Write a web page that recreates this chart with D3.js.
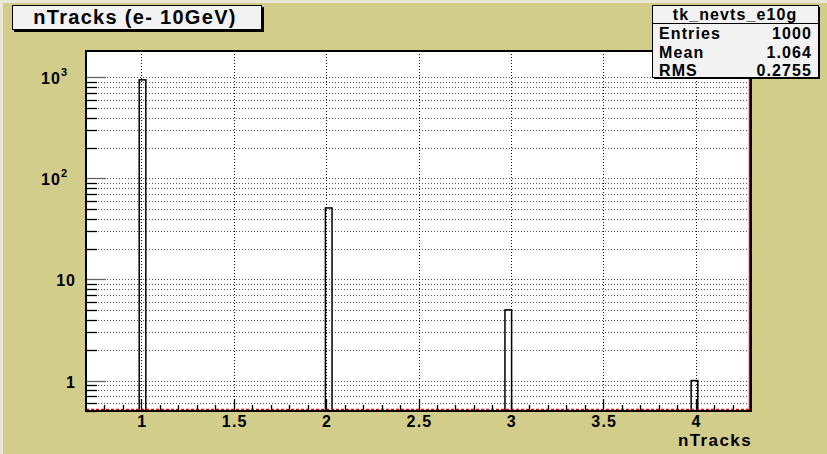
<!DOCTYPE html>
<html>
<head>
<meta charset="utf-8">
<script src="https://cdn.jsdelivr.net/npm/d3@7"></script>
<style>
  body { margin: 0; background: #fff; }
  svg { display: block; font-family: "Liberation Sans", Arial, sans-serif; font-weight: bold; }
</style>
</head>
<body>
<svg id="chart" width="827" height="454"></svg>
<script>
// histogram contents (bin edges)
var binLow = [0.988, 1.996, 2.968, 3.976];
var binWidth = 0.036;
var counts = [943, 51, 5, 1];
var xTicks = [1, 1.5, 2, 2.5, 3, 3.5, 4];
var xTickLabels = ['1', '1.5', '2', '2.5', '3', '3.5', '4'];
var yMajor = [1, 10, 100, 1000];
var yLabels = [['1', ''], ['10', ''], ['10', '2'], ['10', '3']];
var statNames = ['Entries', 'Mean', 'RMS'];
var statValues = ['1000', '1.064', '0.2755'];

var svg = d3.select('#chart');
var frame = {left: 86, right: 751, top: 51, bottom: 411};

// canvas
svg.append('rect').attr('width', 827).attr('height', 454).attr('fill', '#e9e8d4');
svg.append('rect').attr('x', 3).attr('y', 3).attr('width', 824).attr('height', 451).attr('fill', '#d3cd8b');

var x = d3.scaleLinear().domain([0.7, 4.3]).range([frame.left, frame.right]);
var y = d3.scaleLog().domain([0.5, 1820]).range([frame.bottom, frame.top]);

svg.append('rect')
  .attr('x', frame.left).attr('y', frame.top)
  .attr('width', frame.right - frame.left).attr('height', frame.bottom - frame.top)
  .attr('fill', '#fff');

// minor log ticks
var yMinor = [];
[0.1, 1, 10, 100, 1000].forEach(function(d) {
  for (var k = 1; k < 10; k++) {
    var v = d * k;
    if (v >= 0.5 && v <= 1820) yMinor.push(v);
  }
});

var grid = svg.append('g').attr('stroke', '#555').attr('stroke-width', 1).attr('stroke-dasharray', '1,2');
grid.selectAll('line.h').data(yMinor).enter().append('line')
  .attr('x1', frame.left).attr('x2', frame.right)
  .attr('y1', function(d) { return Math.round(y(d)) + 0.5; })
  .attr('y2', function(d) { return Math.round(y(d)) + 0.5; });
grid.selectAll('line.v').data(xTicks).enter().append('line')
  .attr('stroke', '#111')
  .attr('y1', frame.top).attr('y2', frame.bottom)
  .attr('x1', function(d) { return Math.round(x(d)) + 0.5; })
  .attr('x2', function(d) { return Math.round(x(d)) + 0.5; });

// bars
svg.append('g').selectAll('rect').data(counts).enter().append('rect')
  .attr('x', function(d, i) { return x(binLow[i]); })
  .attr('width', function(d, i) { return x(binLow[i] + binWidth) - x(binLow[i]); })
  .attr('y', function(d) { return y(d); })
  .attr('height', function(d) { return frame.bottom - y(d); })
  .attr('fill', 'none').attr('stroke', '#000').attr('stroke-width', 1.5);

// red histogram baseline/edge
svg.append('line').attr('x1', frame.left).attr('x2', frame.right - 1)
  .attr('y1', frame.bottom - 1.5).attr('y2', frame.bottom - 1.5)
  .attr('stroke', '#e00').attr('stroke-width', 1.5).attr('stroke-dasharray', '3,2');
svg.append('line').attr('x1', frame.right - 1.5).attr('x2', frame.right - 1.5)
  .attr('y1', frame.top).attr('y2', frame.bottom)
  .attr('stroke', '#e00').attr('stroke-width', 1.5);

// y ticks (pointing in)
var yt = svg.append('g').attr('stroke', '#000').attr('stroke-width', 1.3);
yt.selectAll('line').data(yMinor).enter().append('line')
  .attr('x1', frame.left)
  .attr('x2', function(d) { return yMajor.indexOf(d) >= 0 ? frame.left + 20 : frame.left + 11; })
  .attr('y1', function(d) { return Math.round(y(d)) + 0.5; })
  .attr('y2', function(d) { return Math.round(y(d)) + 0.5; })
  .attr('stroke', function(d) { return yMajor.indexOf(d) >= 0 ? '#666' : '#000'; });

// x ticks (pointing up)
var xMinor = d3.range(8, 43).map(function(d) { return d / 10; });
var xt = svg.append('g').attr('stroke', '#000').attr('stroke-width', 1.3);
xt.selectAll('line').data(xMinor).enter().append('line')
  .attr('x1', function(d) { return Math.round(x(d)) + 0.5; })
  .attr('x2', function(d) { return Math.round(x(d)) + 0.5; })
  .attr('y1', frame.bottom)
  .attr('y2', function(d) { return Math.round(d * 10) % 5 === 0 ? frame.bottom - 12 : frame.bottom - 6; });

// frame
svg.append('rect')
  .attr('x', frame.left).attr('y', frame.top)
  .attr('width', frame.right - frame.left).attr('height', frame.bottom - frame.top)
  .attr('fill', 'none').attr('stroke', '#000').attr('stroke-width', 2);

// x labels
svg.append('g').selectAll('text').data(xTicks).enter().append('text')
  .attr('x', function(d) { return x(d) + 1; })
  .attr('y', 427)
  .attr('text-anchor', 'middle').attr('font-size', 16).attr('letter-spacing', 1.2)
  .text(function(d, i) { return xTickLabels[i]; });

svg.append('text').attr('x', frame.right + 1).attr('y', 446)
  .attr('text-anchor', 'end').attr('font-size', 17).attr('letter-spacing', 1.4).text('nTracks');

// y labels
var yl = svg.append('g').selectAll('text').data(yMajor).enter().append('text')
  .attr('x', function(d, i) { return yLabels[i][1] ? 68 : 76; })
  .attr('y', function(d) { return y(d) + 7; })
  .attr('text-anchor', 'end').attr('font-size', 16).attr('letter-spacing', 1);
yl.append('tspan').text(function(d, i) { return yLabels[i][0]; });
yl.append('tspan').attr('font-size', 11).attr('dy', -8)
  .text(function(d, i) { return yLabels[i][1]; });

// title box
svg.append('rect').attr('x', 14).attr('y', 7).attr('width', 250).attr('height', 25).attr('fill', '#000');
svg.append('rect').attr('x', 12.5).attr('y', 5.5).attr('width', 249).attr('height', 24)
  .attr('fill', '#f2f2f2').attr('stroke', '#000').attr('stroke-width', 1);
svg.append('text').attr('x', 135).attr('y', 24).attr('text-anchor', 'middle')
  .attr('font-size', 20).attr('letter-spacing', 1.3).text('nTracks (e- 10GeV)');

// stats box
var sb = {x: 652, y: 5, w: 166, h: 72};
svg.append('rect').attr('x', sb.x + 2).attr('y', sb.y + 2).attr('width', sb.w).attr('height', sb.h).attr('fill', '#000');
svg.append('rect').attr('x', sb.x + 0.5).attr('y', sb.y + 0.5).attr('width', sb.w).attr('height', sb.h)
  .attr('fill', '#f2f2f2').attr('stroke', '#000').attr('stroke-width', 1);
svg.append('line').attr('x1', sb.x).attr('x2', sb.x + sb.w)
  .attr('y1', sb.y + 18.5).attr('y2', sb.y + 18.5).attr('stroke', '#000');
svg.append('text').attr('x', sb.x + sb.w / 2).attr('y', sb.y + 15).attr('text-anchor', 'middle')
  .attr('font-size', 16).attr('letter-spacing', 1.1).text('tk_nevts_e10g');
var rows = svg.append('g').selectAll('g').data(statNames).enter().append('g');
rows.append('text').attr('x', sb.x + 7)
  .attr('y', function(d, i) { return sb.y + 34 + i * 18.5; })
  .attr('font-size', 16).attr('letter-spacing', 1.1).text(function(d) { return d; });
rows.append('text').attr('x', sb.x + sb.w - 6).attr('text-anchor', 'end')
  .attr('y', function(d, i) { return sb.y + 34 + i * 18.5; })
  .attr('font-size', 16).attr('letter-spacing', 1.1).text(function(d, i) { return statValues[i]; });
</script>
</body>
</html>
